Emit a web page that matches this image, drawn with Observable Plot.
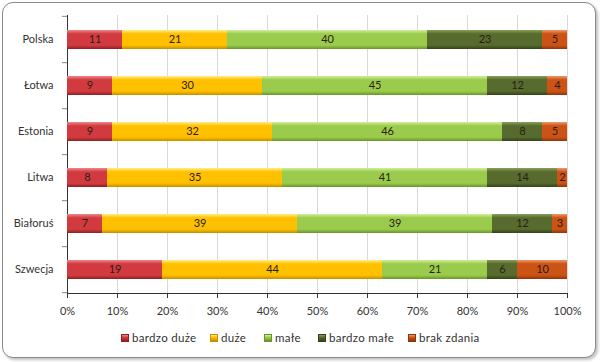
<!DOCTYPE html>
<html>
<head>
<meta charset="utf-8">
<script src="https://cdn.jsdelivr.net/npm/d3@7"></script>
<script src="https://cdn.jsdelivr.net/npm/@observablehq/plot@0.6"></script>
<style>
  html, body { margin: 0; padding: 0; background: #fff; }
  body { width: 600px; height: 362px; position: relative; overflow: hidden; font-family: Lato, "Open Sans", sans-serif; }
  #frame { position: absolute; left: 2px; top: 2px; width: 592px; height: 354px; border: 1px solid #8a8a8a; border-radius: 11px; box-shadow: 2px 2px 3px rgba(0,0,0,0.25); background: #fff; }
  #chart { position: absolute; left: 0; top: 0; }
  #legend { position: absolute; left: 121px; top: 331px; display: flex; align-items: center; font-size: 11.5px; color: #333; letter-spacing: 0.3px; }
  .item { display: flex; align-items: center; white-space: nowrap; }
  .sw { width: 8px; height: 8px; margin-right: 3px; box-sizing: border-box; }
</style>
</head>
<body>
<div id="frame"></div>
<div id="chart"></div>
<div id="legend"></div>
<script>
const countries = ["Polska", "Łotwa", "Estonia", "Litwa", "Białoruś", "Szwecja"];
const series = ["bardzo duże", "duże", "małe", "bardzo małe", "brak zdania"];
const bardzoDuze = [11, 9, 9, 8, 7, 19];
const duze = [21, 30, 32, 35, 39, 44];
const male = [40, 45, 46, 41, 39, 21];
const bardzoMale = [23, 12, 8, 14, 12, 6];
const brakZdania = [5, 4, 5, 2, 3, 10];
const xTicks = [0, 10, 20, 30, 40, 50, 60, 70, 80, 90, 100];

const colors = [
  {base: "#d13b40", light: "#f0898c", dark: "#8f1f23"},
  {base: "#ffc000", light: "#fff08a", dark: "#c48f00"},
  {base: "#9bcb4c", light: "#d2ef9c", dark: "#6a952a"},
  {base: "#566b2d", light: "#8aa25c", dark: "#34421a"},
  {base: "#cc5316", light: "#f29a66", dark: "#8f350a"}
];
const legendItemWidths = [89, 54, 54, 90, 80];

const valuesBySeries = [bardzoDuze, duze, male, bardzoMale, brakZdania];
const data = [];
countries.forEach((c, i) => {
  series.forEach((s, j) => {
    data.push({country: c, series: s, value: valuesBySeries[j][i]});
  });
});

const W = 600, H = 322, mt = 15, mb = 29, ml = 67, mr = 33;
const bw = (H - mt - mb) / countries.length;

const chart = Plot.plot({
  width: W,
  height: H,
  marginTop: mt,
  marginBottom: mb,
  marginLeft: ml,
  marginRight: mr,
  style: {fontFamily: "Lato, 'Open Sans', sans-serif", fontSize: "11px", color: "#333", background: "transparent", overflow: "visible"},
  x: {domain: [0, 100], ticks: 10, tickFormat: d => d + "%", tickSize: 5, tickPadding: 9, line: true, label: null},
  y: {domain: countries, padding: 0, tickSize: 0, tickPadding: 14, line: true, label: null},
  color: {domain: series, range: series.map((s, i) => `url(#g${i})`)},
  marks: [
    Plot.ruleX(xTicks.filter(d => d > 0), {stroke: "#d9d9d9"}),
    Plot.barX(data, Plot.stackX({x: "value", y: "country", fill: "series", z: "series", order: series, insetTop: 14, insetBottom: 13, ariaLabel: "bars"})),
    Plot.text(data, Plot.stackX({x: "value", y: "country", z: "series", text: d => String(d.value), order: series, fill: "#2b1d14", fontSize: 11})),
    Plot.ruleY(countries, {y: d => d, x1: -1, x2: 0, dy: bw / 2, stroke: "#868686"}),
    Plot.ruleY([countries[0]], {y: d => d, x1: -1, x2: 0, dy: -bw / 2, stroke: "#868686"})
  ]
});

// gradients for the bevelled bars, plus a soft drop shadow
const ns = "http://www.w3.org/2000/svg";
const defs = document.createElementNS(ns, "defs");
colors.forEach((c, i) => {
  const g = document.createElementNS(ns, "linearGradient");
  g.setAttribute("id", "g" + i);
  g.setAttribute("x1", "0"); g.setAttribute("y1", "0");
  g.setAttribute("x2", "0"); g.setAttribute("y2", "1");
  [[0, c.light], [0.2, c.base], [0.8, c.base], [1, c.dark]].forEach(([o, col]) => {
    const st = document.createElementNS(ns, "stop");
    st.setAttribute("offset", o);
    st.setAttribute("stop-color", col);
    g.appendChild(st);
  });
  defs.appendChild(g);
});
const filter = document.createElementNS(ns, "filter");
filter.setAttribute("id", "shadow");
filter.setAttribute("x", "-5%"); filter.setAttribute("y", "-20%");
filter.setAttribute("width", "110%"); filter.setAttribute("height", "160%");
const ds = document.createElementNS(ns, "feDropShadow");
ds.setAttribute("dx", "1"); ds.setAttribute("dy", "2");
ds.setAttribute("stdDeviation", "1.2");
ds.setAttribute("flood-color", "#000"); ds.setAttribute("flood-opacity", "0.3");
filter.appendChild(ds);
defs.appendChild(filter);
chart.insertBefore(defs, chart.firstChild);
const barsGroup = chart.querySelector("[aria-label='bars']");
if (barsGroup) barsGroup.setAttribute("filter", "url(#shadow)");
chart.querySelectorAll("[aria-label='x-axis'] path, [aria-label='y-axis'] path, [aria-label='x-axis'] line, [aria-label='y-axis'] line").forEach(el => el.setAttribute("stroke", "#868686"));
document.getElementById("chart").appendChild(chart);

const legend = document.getElementById("legend");
series.forEach((s, i) => {
  const item = document.createElement("div");
  item.className = "item";
  item.style.width = legendItemWidths[i] + "px";
  const sw = document.createElement("div");
  sw.className = "sw";
  sw.style.background = `linear-gradient(to bottom, ${colors[i].light}, ${colors[i].base} 40%, ${colors[i].dark})`;
  sw.style.border = `1px solid ${colors[i].dark}`;
  const t = document.createElement("span");
  t.textContent = s;
  item.appendChild(sw);
  item.appendChild(t);
  legend.appendChild(item);
});
</script>
</body>
</html>
